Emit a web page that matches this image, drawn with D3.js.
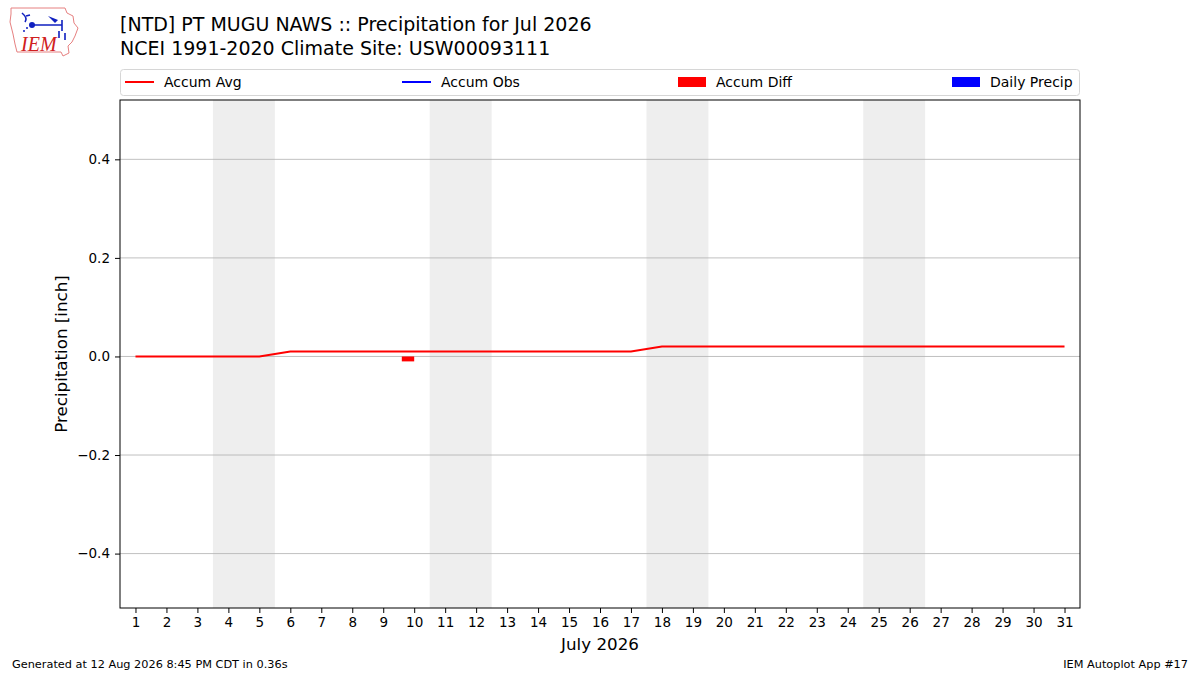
<!DOCTYPE html>
<html>
<head>
<meta charset="utf-8">
<script src="https://cdn.jsdelivr.net/npm/d3@7"></script>
<style>
  body { margin: 0; background: #fff; }
  svg { font-family: "DejaVu Sans", sans-serif; }
</style>
</head>
<body>
<div id="chart"></div>
<script>
// data
const days = d3.range(1, 32);
const accumAvg = [0, 0, 0, 0, 0, 0.01, 0.01, 0.01, 0.01, 0.01, 0.01, 0.01, 0.01, 0.01, 0.01, 0.01, 0.01,
  0.02, 0.02, 0.02, 0.02, 0.02, 0.02, 0.02, 0.02, 0.02, 0.02, 0.02, 0.02, 0.02, 0.02];
const diffDays = [10];
const accumDiff = [-0.01];
const weekendStarts = [4, 11, 18, 25];
const yTicks = [-0.4, -0.2, 0.0, 0.2, 0.4];
const legendItems = [
  { label: "Accum Avg", kind: "line", color: "red" },
  { label: "Accum Obs", kind: "line", color: "blue" },
  { label: "Accum Diff", kind: "rect", color: "red" },
  { label: "Daily Precip", kind: "rect", color: "blue" }
];
const titleLines = ["[NTD] PT MUGU NAWS :: Precipitation for Jul 2026",
  "NCEI 1991-2020 Climate Site: USW00093111"];

const W = 1200, H = 675;
const margin = { top: 100, right: 120, bottom: 67, left: 120 };
const width = W - margin.left - margin.right;
const height = H - margin.top - margin.bottom;

const svg = d3.select("#chart").append("svg")
  .attr("width", W).attr("height", H);

const x = d3.scaleLinear().domain([0.5, 31.5]).range([0, width]);
const y = d3.scaleLinear().domain([-0.5104, 0.5204]).range([height, 0]);

const g = svg.append("g")
  .attr("transform", `translate(${margin.left},${margin.top})`);

// weekend shading
g.selectAll("rect.weekend")
  .data(weekendStarts)
  .join("rect")
  .attr("class", "weekend")
  .attr("x", d => x(d - 0.5))
  .attr("width", d => x(d + 1.5) - x(d - 0.5))
  .attr("y", 0)
  .attr("height", height)
  .attr("fill", "#eeeeee");

// horizontal grid
g.selectAll("line.grid")
  .data(yTicks)
  .join("line")
  .attr("class", "grid")
  .attr("x1", 0).attr("x2", width)
  .attr("y1", d => y(d)).attr("y2", d => y(d))
  .attr("stroke", "#b0b0b0")
  .attr("stroke-width", 0.8);

// accum diff bars (drawn to the left of the day)
g.selectAll("rect.diff")
  .data(diffDays.map((d, i) => ({ day: d, v: accumDiff[i] })))
  .join("rect")
  .attr("class", "diff")
  .attr("x", d => x(d.day - 0.4))
  .attr("width", d => x(d.day) - x(d.day - 0.4))
  .attr("y", d => y(Math.max(0, d.v)))
  .attr("height", d => Math.abs(y(d.v) - y(0)))
  .attr("fill", "red");

// accum avg line
const line = d3.line()
  .x((d, i) => x(days[i]))
  .y(d => y(d));
g.append("path")
  .datum(accumAvg)
  .attr("d", line)
  .attr("fill", "none")
  .attr("stroke", "red")
  .attr("stroke-width", 2);

// frame
g.append("rect")
  .attr("width", width).attr("height", height)
  .attr("fill", "none").attr("stroke", "black").attr("stroke-width", 1);

// axes
const xAxis = g.append("g")
  .attr("transform", `translate(0,${height})`)
  .call(d3.axisBottom(x).tickValues(days).tickFormat(d3.format("d")).tickSize(5).tickPadding(4));
const yAxis = g.append("g")
  .call(d3.axisLeft(y).tickValues(yTicks).tickFormat(d => d3.format(".1f")(d).replace("-", "\u2212")).tickSize(5).tickPadding(5));
[xAxis, yAxis].forEach(a => {
  a.select(".domain").remove();
  a.selectAll("text").attr("font-size", 13.5).attr("fill", "black").attr("font-family", "DejaVu Sans");
  a.selectAll("line").attr("stroke", "black");
});

// axis labels
svg.append("text")
  .attr("x", margin.left + width / 2).attr("y", 650)
  .attr("text-anchor", "middle").attr("font-size", 16.7)
  .text("July 2026");
svg.append("text")
  .attr("transform", `translate(67,${margin.top + height / 2}) rotate(-90)`)
  .attr("text-anchor", "middle").attr("font-size", 16.7)
  .text("Precipitation [inch]");

// titles
svg.selectAll("text.title")
  .data(titleLines)
  .join("text")
  .attr("class", "title")
  .attr("x", 120)
  .attr("y", (d, i) => 31 + i * 24)
  .attr("font-size", 19)
  .text(d => d);

// legend
const legend = svg.append("g").attr("transform", "translate(120,69)");
legend.append("rect")
  .attr("x", 0.5).attr("y", 0.5).attr("width", width - 1).attr("height", 26)
  .attr("rx", 3).attr("fill", "white").attr("stroke", "#d6d6d6");
const legendX = [5, 282, 558, 832];
const items = legend.selectAll("g.item")
  .data(legendItems)
  .join("g")
  .attr("class", "item")
  .attr("transform", (d, i) => `translate(${legendX[i]},13)`);
items.filter(d => d.kind === "line").append("line")
  .attr("x1", 0).attr("x2", 29).attr("stroke", d => d.color).attr("stroke-width", 2);
items.filter(d => d.kind === "rect").append("rect")
  .attr("x", 0).attr("y", -5).attr("width", 28).attr("height", 10).attr("fill", d => d.color);
items.append("text")
  .attr("x", (d, i) => d.kind === "line" ? 39 : 38)
  .attr("y", 5).attr("font-size", 14)
  .text(d => d.label);

// footer
svg.append("text").attr("x", 12).attr("y", 668).attr("font-size", 11.3).text("Generated at 12 Aug 2026 8:45 PM CDT in 0.36s");
svg.append("text").attr("x", 1188).attr("y", 668).attr("text-anchor", "end").attr("font-size", 11.3).text("IEM Autoplot App #17");

// logo (simplified)
const logo = svg.append("g").attr("transform", "translate(9,6)");
logo.append("path")
  .attr("d", "M2,2 L56,2 L58,7 L64,10 L65,17 L69,22 L66,30 L63,36 L59,40 L60,47 L54,50 L52,46 L8,46 L6,38 L4,28 L1,16 L2,8 Z")
  .attr("fill", "white").attr("stroke", "#e68080").attr("stroke-width", 1);
logo.append("text")
  .attr("x", 12).attr("y", 45)
  .attr("font-family", "Liberation Serif, serif").attr("font-style", "italic")
  .attr("font-size", 20).attr("fill", "#d02020").text("IEM");
logo.append("path")
  .attr("d", "M22,19 L53,19 M53,14 L53,25 M50,25 L50,32 M56,27 L56,34 M13,7 Q19,12 16,16 M17,10 L21,9")
  .attr("fill", "none").attr("stroke", "#1020c0").attr("stroke-width", 1.6);
logo.append("circle").attr("cx", 23).attr("cy", 19).attr("r", 3).attr("fill", "#1020c0");
logo.append("circle").attr("cx", 18).attr("cy", 22).attr("r", 1).attr("fill", "#1020c0");
logo.append("circle").attr("cx", 15).attr("cy", 25).attr("r", 1).attr("fill", "#1020c0");
logo.append("path").attr("d", "M39,10 L49,14 L46,17 Z").attr("fill", "#1020c0");
</script>
</body>
</html>
